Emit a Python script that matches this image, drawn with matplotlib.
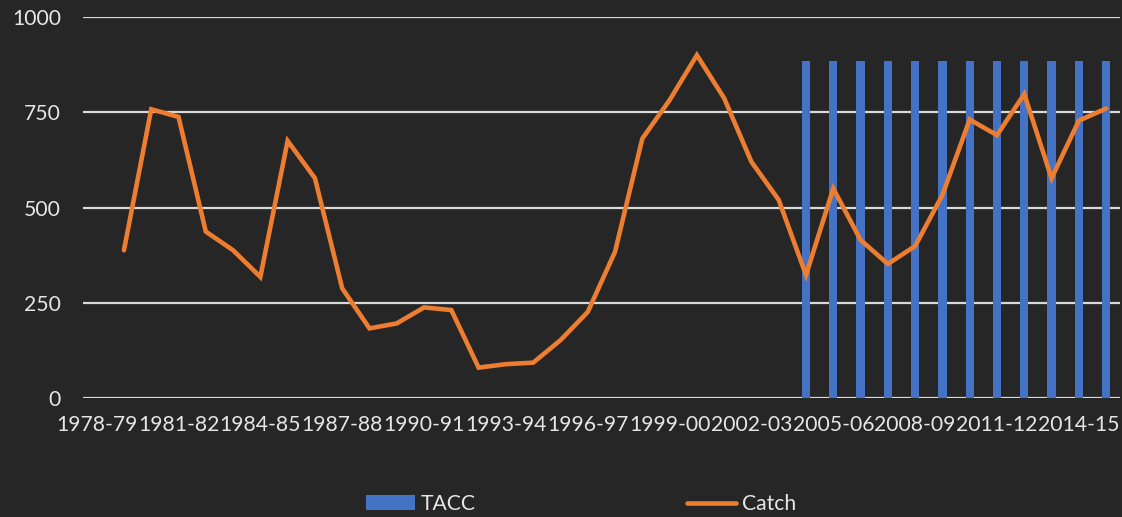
import numpy as np
import matplotlib
matplotlib.use("Agg")
import matplotlib.pyplot as plt

plt.rcParams['font.family'] = ['Lato', 'DejaVu Sans']

seasons = [f"{y}-{str(y + 1)[-2:]}" for y in range(1978, 2016)]

# catch per season (tonnes); no value for 1978-79
catch = [np.nan, 388, 758, 738, 437, 388, 318, 675, 577, 288,
         183, 196, 238, 231, 80, 89, 93, 152, 226, 384,
         681, 782, 900, 787, 620, 520, 323, 550, 415, 352,
         399, 533, 731, 690, 798, 577, 728, 760]

# TACC only set from 2004-05 on
tacc_seasons = seasons[26:]
tacc = [884] * len(tacc_seasons)

bg = "#262626"
txt = "#E6E6E6"

fig = plt.figure(figsize=(11.22, 5.17), dpi=100, facecolor=bg)
ax = fig.add_axes([0.074, 0.230, 0.924, 0.737], facecolor=bg)

x = np.arange(len(seasons))
xt = [seasons.index(s) for s in tacc_seasons]

bars = ax.bar(xt, tacc, width=0.3, color="#4472C4", label="TACC", zorder=2)
line, = ax.plot(x, catch, color="#ED7D31", lw=3.3, label="Catch", zorder=3,
                solid_capstyle="round", solid_joinstyle="miter")

ax.set_xlim(-0.5, len(seasons) - 0.5)
ax.set_ylim(0, 1000)
ax.set_yticks([0, 250, 500, 750, 1000])
ax.set_xticks(x[::3])
ax.set_xticklabels(seasons[::3])
ax.yaxis.grid(True, color="#D9D9D9", lw=1.6, zorder=0)
ax.set_axisbelow(True)
for s in ax.spines.values():
    s.set_visible(False)
ax.tick_params(axis="both", length=0, colors=txt, labelsize=15.2)
ax.tick_params(axis="y", pad=16)
ax.tick_params(axis="x", pad=12)

fig.legend([bars, line], ["TACC", "Catch"], loc="center",
           bbox_to_anchor=(0.518, 0.025), ncol=2, frameon=False,
           fontsize=15.2, labelcolor=txt, handlelength=2.3, handleheight=0.7,
           handletextpad=0.3, columnspacing=10)

fig.savefig("out.png", dpi=100, facecolor=bg)
